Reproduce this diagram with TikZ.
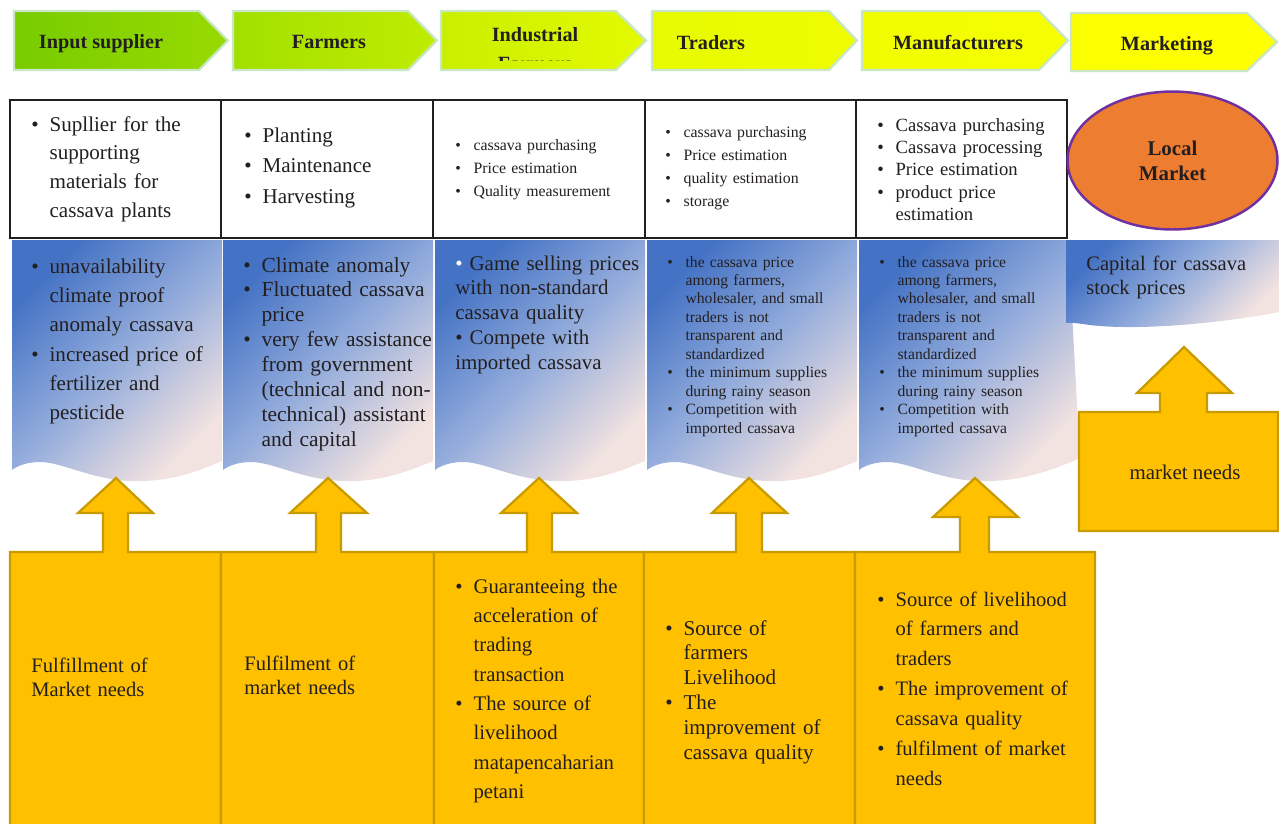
\documentclass[tikz,border=0pt]{standalone}
\usepackage{fontspec}
\setmainfont{Liberation Serif}

\definecolor{ink}{HTML}{231F20}
\definecolor{chevline}{HTML}{C9E6C6}
\definecolor{bluetop}{HTML}{4472C4}
\definecolor{bluemid}{HTML}{93ACDC}
\definecolor{pinkbot}{HTML}{F3E3E0}
\definecolor{gold}{HTML}{FFC000}
\definecolor{goldline}{HTML}{C89B00}
\definecolor{orangefill}{HTML}{ED7D31}
\definecolor{purpleline}{HTML}{7030A0}

\newcommand{\fs}[2]{\fontsize{#1}{#2}\selectfont}
\newcommand{\blt}{\makebox[10.4pt][l]{\textbullet}}
\newcommand{\ind}{\hspace*{10.4pt}}

\usetikzlibrary{shapes.geometric}

\tikzstyle{chev} = [draw=chevline, line width=1.3pt]
\tikzstyle{head} = [anchor=base, inner sep=0pt, text=ink, font=\fs{11.5}{16.4}\bfseries, align=center]
\tikzstyle{task} = [draw=ink, line width=1.2pt, fill=white]
\tikzstyle{banner} = [top color=bluetop, bottom color=pinkbot, middle color=bluemid, shading angle=45]
\tikzstyle{callout} = [fill=gold, draw=goldline, line width=1.3pt]
\tikzstyle{txt} = [anchor=base west, text width=4.4cm, align=left, inner sep=0pt, text=ink]
\tikzstyle{market} = [ellipse, draw=purpleline, line width=1.4pt, fill=orangefill, minimum width=4.2cm, minimum height=2.76cm, inner sep=0pt, align=center, text=ink, font=\fs{11.9}{14.2}\bfseries]

\newcommand{\wavecol}[1]{\shade[banner, shift={(#1,0)}] (0,240) -- (210,240) -- (210,461) .. controls (175,476) and (150,482) .. (120,481) .. controls (80,480) and (50,462) .. (28,462) .. controls (15,462) and (5,466) .. (0,470) -- cycle;}

\begin{document}
\begin{tikzpicture}[x=0.02cm, y=-0.02cm]
\useasboundingbox (0,0) rectangle (1279,823);

%begin chevrons
\shadedraw[chev, left color={rgb,255:red,120;green,204;blue,0}, right color={rgb,255:red,152;green,218;blue,0}] (14,11) -- (199,11) -- (228,40.5) -- (199,70) -- (14,70) -- cycle;
\shadedraw[chev, left color={rgb,255:red,162;green,224;blue,0}, right color={rgb,255:red,192;green,236;blue,0}] (233,11) -- (408,11) -- (437,40.5) -- (408,70) -- (233,70) -- cycle;
\shadedraw[chev, left color={rgb,255:red,201;green,239;blue,0}, right color={rgb,255:red,228;green,250;blue,0}] (441,11) -- (616,11) -- (646,40.5) -- (616,70) -- (441,70) -- cycle;
\shadedraw[chev, left color={rgb,255:red,232;green,251;blue,0}, right color={rgb,255:red,238;green,252;blue,0}] (652,11) -- (829,11) -- (857,40.5) -- (829,70) -- (652,70) -- cycle;
\shadedraw[chev, left color={rgb,255:red,240;green,253;blue,0}, right color={rgb,255:red,246;green,254;blue,0}] (862,11) -- (1039,11) -- (1068,40.5) -- (1039,70) -- (862,70) -- cycle;
\shadedraw[chev, left color={rgb,255:red,251;green,255;blue,0}, right color={rgb,255:red,255;green,255;blue,0}] (1071,13) -- (1247,13) -- (1277,42) -- (1247,71) -- (1071,71) -- cycle;
\node[head] (h-input) at (101,48) {Input supplier};
\node[head] (h-farmers) at (329,48) {Farmers};
\begin{scope}
\clip (441,11) rectangle (646,60);
\node[head] (h-industrial) at (535,70) {Industrial\\Farmers};
\end{scope}
\node[head] (h-traders) at (711,49) {Traders};
\node[head] (h-manufacturers) at (958,49) {Manufacturers};
\node[head] (h-marketing) at (1167,50) {Marketing};
%end chevrons

%begin tasks
\draw[task] (10,100) rectangle (221,238);
\draw[task] (221,100) rectangle (433,238);
\draw[task] (433,100) rectangle (645,238);
\draw[task] (645,100) rectangle (856,238);
\draw[task] (856,100) rectangle (1067,238);
\node[txt, font=\fs{12}{16.4}] (t-input) at (31,131) {\blt Supllier for the\\ \ind supporting\\ \ind materials for\\ \ind cassava plants};
\node[txt, font=\fs{12}{17.6}] (t-farmers) at (244,142) {\blt Planting\\ \blt Maintenance\\ \blt Harvesting};
\node[txt, font=\fs{9}{13.3}] (t-industrial) at (455,150) {\blt cassava purchasing\\ \blt Price estimation\\ \blt Quality measurement};
\node[txt, font=\fs{9}{13.2}] (t-traders) at (665,137) {\blt cassava purchasing\\ \blt Price estimation\\ \blt quality estimation\\ \blt storage};
\node[txt, font=\fs{10.6}{12.8}] (t-manufacturers) at (877,131) {\blt Cassava purchasing\\ \blt Cassava processing\\ \blt Price estimation\\ \blt product price\\ \ind estimation};
\node[market] (local) at (1172.5,160.5) {Local\\Market};
%end tasks

%begin problems
\wavecol{12}
\wavecol{223}
\wavecol{435}
\wavecol{647}
\shade[banner] (859,240) -- (1068,240) -- (1080,458) .. controls (1040,476) and (1010,482) .. (979,481) .. controls (939,480) and (909,462) .. (887,462) .. controls (874,462) and (864,466) .. (859,470) -- cycle;
\shade[banner] (1066,240) -- (1279,240) -- (1279,312) .. controls (1230,322) and (1150,330) .. (1100,326) .. controls (1085,325) and (1075,322) .. (1066,323) -- cycle;
\node[txt, font=\fs{12}{16.7}] (p-input) at (31,273) {\blt unavailability\\ \ind climate proof\\ \ind anomaly cassava\\ \blt increased price of\\ \ind fertilizer and\\ \ind pesticide};
\node[txt, font=\fs{12.2}{14.2}] (p-farmers) at (243,272) {\blt Climate anomaly\\ \blt Fluctuated cassava\\ \ind price\\ \blt very few assistance\\ \ind from government\\ \ind (technical and non-\\ \ind technical) assistant\\ \ind and capital};
\node[txt, font=\fs{11.9}{14.1}] (p-industrial) at (455,270) {{\color{white}\textbullet} Game selling prices\\ with non-standard\\ cassava quality\\ \textbullet{} Compete with\\ imported cassava};
\node[txt, font=\fs{8.9}{10.5}] (p-traders) at (667,267) {\blt the cassava price\\ \ind among farmers,\\ \ind wholesaler, and small\\ \ind traders is not\\ \ind transparent and\\ \ind standardized\\ \blt the minimum supplies\\ \ind during rainy season\\ \blt Competition with\\ \ind imported cassava};
\node[txt, font=\fs{8.9}{10.5}] (p-manufacturers) at (879,267) {\blt the cassava price\\ \ind among farmers,\\ \ind wholesaler, and small\\ \ind traders is not\\ \ind transparent and\\ \ind standardized\\ \blt the minimum supplies\\ \ind during rainy season\\ \blt Competition with\\ \ind imported cassava};
\node[txt, font=\fs{11.7}{14.2}] (p-marketing) at (1086,270) {Capital for cassava\\ stock prices};
%end problems

%begin callouts
\draw[callout] (10,552) -- (103,552) -- (103,513) -- (78,513) -- (116,478) -- (153,513) -- (128,513) -- (128,552) -- (221,552) -- (221,830) -- (10,830) -- cycle;
\draw[callout] (221,552) -- (316,552) -- (316,513) -- (290,513) -- (328,478) -- (367,513) -- (341,513) -- (341,552) -- (434,552) -- (434,830) -- (221,830) -- cycle;
\draw[callout] (434,552) -- (527,552) -- (527,513) -- (501,513) -- (539,478) -- (577,513) -- (552,513) -- (552,552) -- (644,552) -- (644,830) -- (434,830) -- cycle;
\draw[callout] (644,552) -- (736,552) -- (736,513) -- (712,513) -- (749,478) -- (787,513) -- (762,513) -- (762,552) -- (855,552) -- (855,830) -- (644,830) -- cycle;
\draw[callout] (855,552) -- (960,552) -- (960,517) -- (933,517) -- (975,478) -- (1018,517) -- (989,517) -- (989,552) -- (1095,552) -- (1095,830) -- (855,830) -- cycle;
\draw[callout] (1079,412) -- (1160,412) -- (1160,393) -- (1137,393) -- (1184,347) -- (1232,393) -- (1207,393) -- (1207,412) -- (1278,412) -- (1278,531) -- (1079,531) -- cycle;
\node[txt, font=\fs{11.7}{14.2}] (b-input) at (31,672) {Fulfillment of\\ Market needs};
\node[txt, font=\fs{11.7}{14.2}] (b-farmers) at (244,670) {Fulfilment of\\ market needs};
\node[txt, font=\fs{11.8}{16.7}] (b-industrial) at (455,593) {\blt Guaranteeing the\\ \ind acceleration of\\ \ind trading\\ \ind transaction\\ \blt The source of\\ \ind livelihood\\ \ind matapencaharian\\ \ind petani};
\node[txt, font=\fs{12}{14.2}] (b-traders) at (665,635) {\blt Source of\\ \ind farmers\\ \ind Livelihood\\ \blt The\\ \ind improvement of\\ \ind cassava quality};
\node[txt, font=\fs{11.7}{17}] (b-manufacturers) at (877,606) {\blt Source of livelihood\\ \ind of farmers and\\ \ind traders\\ \blt The improvement of\\ \ind cassava quality\\ \blt fulfilment of market\\ \ind needs};
\node[anchor=base, inner sep=0pt, text=ink, font=\fs{11.9}{14.2}] (b-marketing) at (1185,479) {market needs};
%end callouts
\end{tikzpicture}
\end{document}
